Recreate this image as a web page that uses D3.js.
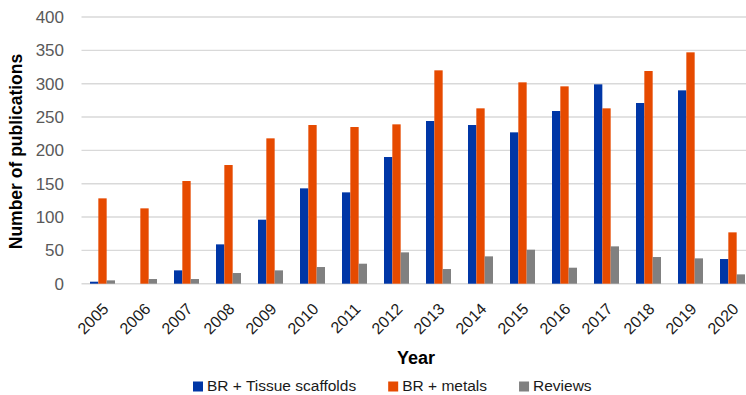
<!DOCTYPE html>
<html>
<head>
<meta charset="utf-8">
<script src="https://cdn.jsdelivr.net/npm/d3@7"></script>
<style>
  html, body { margin: 0; padding: 0; background: #fff; }
  svg { display: block; font-family: "Liberation Sans", Arial, sans-serif; }
</style>
</head>
<body>
<svg id="chart" width="746" height="395"></svg>
<script>
// Publications per year
const years = ["2005","2006","2007","2008","2009","2010","2011","2012","2013","2014","2015","2016","2017","2018","2019","2020"];
const seriesNames = ["BR + Tissue scaffolds", "BR + metals", "Reviews"];
const tissueScaffolds = [3, 0, 20, 59, 96, 143, 137, 190, 244, 238, 227, 259, 299, 271, 290, 37];
const metals = [128, 113, 154, 178, 218, 238, 235, 239, 320, 263, 302, 296, 263, 319, 347, 77];
const reviews = [5, 7, 7, 16, 20, 25, 30, 47, 22, 41, 51, 24, 56, 40, 38, 14];
const yTicks = [0, 50, 100, 150, 200, 250, 300, 350, 400];
const colors = ["#0036A6", "#E64A00", "#808080"];

const seriesValues = [tissueScaffolds, metals, reviews];
const svg = d3.select("#chart");

const plot = { left: 81.5, right: 753.5, top: 17, bottom: 283.7 };

const x0 = d3.scaleBand().domain(years).range([plot.left, plot.right]).padding(0);
const groupWidth = 25;
const x1 = d3.scaleBand().domain(seriesNames).range([0, groupWidth]).padding(0);
const y = d3.scaleLinear().domain([0, 400]).range([plot.bottom, plot.top]);

// Horizontal gridlines
svg.append("g")
  .selectAll("line")
  .data(yTicks)
  .join("line")
  .attr("x1", plot.left)
  .attr("x2", plot.right)
  .attr("y1", d => y(d))
  .attr("y2", d => y(d))
  .attr("stroke", "#d9d9d9")
  .attr("stroke-width", 1.4);

// Y tick labels
svg.append("g")
  .selectAll("text")
  .data(yTicks)
  .join("text")
  .attr("x", 64)
  .attr("y", d => y(d))
  .attr("dy", "0.36em")
  .attr("text-anchor", "end")
  .attr("fill", "#595959")
  .attr("font-size", 17)
  .text(d => d);

// Bars
const groups = svg.append("g")
  .selectAll("g")
  .data(years)
  .join("g")
  .attr("transform", d => `translate(${x0(d) + (x0.bandwidth() - groupWidth) / 2},0)`);

groups.selectAll("rect")
  .data((yr, i) => seriesNames.map((s, k) => ({ s, k, v: seriesValues[k][i] })))
  .join("rect")
  .attr("x", d => x1(d.s))
  .attr("width", x1.bandwidth())
  .attr("y", d => y(d.v))
  .attr("height", d => y(0) - y(d.v))
  .attr("fill", d => colors[d.k]);

// X tick labels (rotated)
svg.append("g")
  .selectAll("text")
  .data(years)
  .join("text")
  .attr("transform", d => `translate(${x0(d) + x0.bandwidth() / 2 + 7},310) rotate(-45)`)
  .attr("text-anchor", "end")
  .attr("fill", "#1a1a1a")
  .attr("font-size", 16)
  .text(d => d);

// Axis titles
svg.append("text")
  .attr("transform", "translate(22,151.5) rotate(-90)")
  .attr("text-anchor", "middle")
  .attr("font-weight", "bold")
  .attr("font-size", 17.5)
  .attr("fill", "#000")
  .text("Number of publications");

svg.append("text")
  .attr("x", 416)
  .attr("y", 364)
  .attr("text-anchor", "middle")
  .attr("font-weight", "bold")
  .attr("font-size", 18)
  .attr("fill", "#000")
  .text("Year");

// Legend
const legend = svg.append("g");
let lx = 193;
seriesNames.forEach((name, k) => {
  legend.append("rect")
    .attr("x", lx).attr("y", 381.5)
    .attr("width", 10).attr("height", 10)
    .attr("fill", colors[k]);
  const t = legend.append("text")
    .attr("x", lx + 14).attr("y", 391)
    .attr("font-size", 15.5)
    .attr("fill", "#1a1a1a")
    .text(name);
  lx += 14 + t.node().getComputedTextLength() + 32;
});
</script>
</body>
</html>
